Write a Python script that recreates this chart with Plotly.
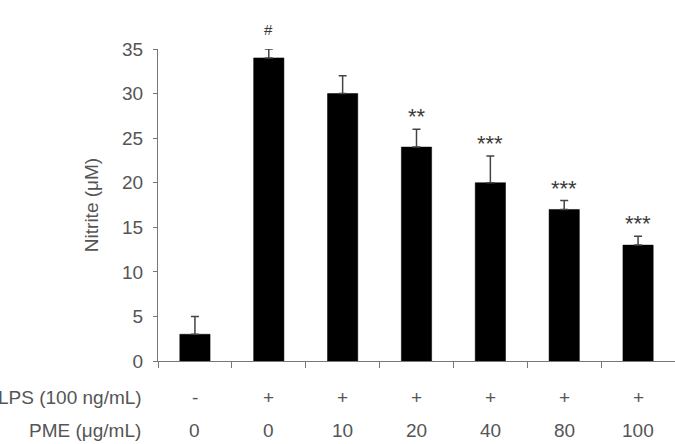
import plotly.graph_objects as go

categories = ["c1", "c2", "c3", "c4", "c5", "c6", "c7"]
nitrite = [3, 34, 30, 24, 20, 17, 13]
sem = [2, 1, 2, 2, 3, 1, 1]
signif = ["", "#", "", "**", "***", "***", "***"]
lps = ["-", "+", "+", "+", "+", "+", "+"]
pme = ["0", "0", "10", "20", "40", "80", "100"]
y_ticks = [0, 5, 10, 15, 20, 25, 30, 35]

FONT = "Liberation Sans, Arial, sans-serif"
GREY = "#555555"
AX = "#777777"
FS = 19

fig = go.Figure()
fig.add_trace(go.Bar(
    x=categories, y=nitrite, width=0.41,
    marker=dict(color="black", line=dict(color="black", width=0.5)),
    error_y=dict(type="data", symmetric=False, array=sem,
                 arrayminus=[0] * len(sem), color="#444444",
                 thickness=1.5, width=4),
    showlegend=False,
))

annotations = []
for c, v, e, s in zip(categories, nitrite, sem, signif):
    if s:
        is_hash = s == "#"
        annotations.append(dict(x=c, y=v + e, xref="x", yref="y", text=s,
                                showarrow=False, yanchor="bottom",
                                yshift=9 if is_hash else -2,
                                font=dict(family=FONT, size=15 if is_hash else 22,
                                          color="#3a3a3a")))
for c, a, b in zip(categories, lps, pme):
    annotations.append(dict(x=c, y=0, xref="x", yref="paper", text=a,
                            showarrow=False, yshift=-36, yanchor="middle",
                            font=dict(family=FONT, size=FS, color=GREY)))
    annotations.append(dict(x=c, y=0, xref="x", yref="paper", text=b,
                            showarrow=False, yshift=-69, yanchor="middle",
                            font=dict(family=FONT, size=FS, color=GREY)))
annotations.append(dict(x=0, y=0, xref="paper", yref="paper", text="LPS (100 ng/mL)",
                        showarrow=False, xanchor="right", xshift=-14, yshift=-36,
                        yanchor="middle", font=dict(family=FONT, size=FS, color=GREY)))
annotations.append(dict(x=0, y=0, xref="paper", yref="paper", text="PME (μg/mL)",
                        showarrow=False, xanchor="right", xshift=-15, yshift=-69,
                        yanchor="middle", font=dict(family=FONT, size=FS, color=GREY)))

fig.update_layout(
    width=675, height=444,
    margin=dict(l=158, r=0, t=49, b=83),
    paper_bgcolor="white", plot_bgcolor="white",
    annotations=annotations,
    xaxis=dict(type="category", showticklabels=False, tickson="boundaries",
               ticks="outside", ticklen=6, tickcolor=AX, tickwidth=1.2,
               showline=True, linecolor=AX, linewidth=1.2, showgrid=False,
               zeroline=False, range=[-0.5, 6.5]),
    yaxis=dict(range=[0, 35], tickvals=y_ticks, ticks="outside", ticklen=4,
               tickcolor=AX, tickwidth=1.2, showline=True, linecolor=AX,
               linewidth=1.2, showgrid=False, zeroline=False,
               ticklabelstandoff=6,
               tickfont=dict(family=FONT, size=FS, color=GREY),
               title=dict(text="Nitrite (μM)", standoff=18,
                          font=dict(family=FONT, size=FS, color=GREY))),
)
fig.update_traces(cliponaxis=False)
fig.write_html("out.html")
